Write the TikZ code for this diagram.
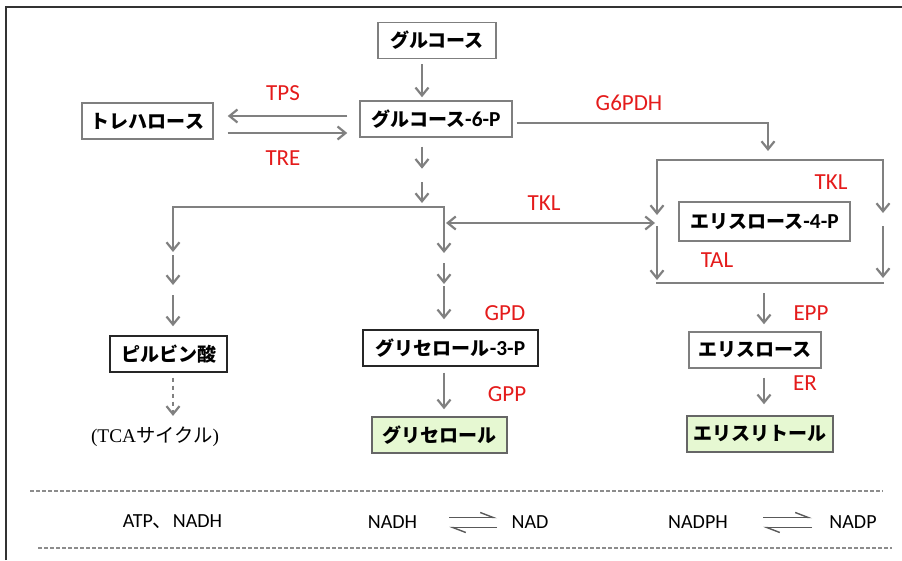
\documentclass[tikz,border=0pt]{standalone}
\usepackage{fontspec}
\usetikzlibrary{arrows.meta,calc}
\newfontfamily\jpfont{Noto Sans CJK JP}
\newfontfamily\latfont{Carlito}
\newfontfamily\romfont{Liberation Serif}
% one pixel of the 902 x 560 layout grid
\def\pxu{*0.75pt}
\newcommand\suffix[1]{{\latfont\bfseries\fontsize{16}{18}\selectfont #1}}

\definecolor{arrowgray}{HTML}{808080}
\definecolor{boxgray}{HTML}{7F7F7F}
\definecolor{enzred}{HTML}{E41B1B}
\definecolor{prodgreen}{HTML}{E6F8D2}
\definecolor{framegray}{HTML}{333333}
\definecolor{sepgray}{HTML}{8C8C8C}
\definecolor{harpgray}{HTML}{595959}

\tikzset{
  pbox/.style={draw=boxgray, line width=1.1pt, fill=white, inner sep=0pt,
    minimum height=36\pxu, font=\jpfont\bfseries\fontsize{14.25}{17}\selectfont},
  darkbox/.style={pbox, draw=black!85},
  prod/.style={pbox, draw=black!60, fill=prodgreen},
  enz/.style={text=enzred, inner sep=0pt, font=\latfont\fontsize{17.25}{20}\selectfont},
  cof/.style={inner sep=0pt, font=\latfont\fontsize{15}{18}\selectfont},
  arr/.style={draw=arrowgray, line width=1.65pt, -{Straight Barb[length=6pt, width=9.75pt]}},
  dblarr/.style={draw=arrowgray, line width=1.65pt,
    {Straight Barb[length=6pt, width=9.75pt]}-{Straight Barb[length=6pt, width=9.75pt]}},
  plain/.style={draw=arrowgray, line width=1.65pt, line cap=rect},
  harp/.style={draw=harpgray, line width=1.05pt, -{Straight Barb[left, length=9.75pt, width=7.5pt]}},
  sep/.style={draw=sepgray, line width=1.05pt, dash pattern=on 3pt off 1.5pt},
}

\begin{document}
\begin{tikzpicture}[x=0.75pt, y=-0.75pt]
\useasboundingbox (0,0) rectangle (902,560);

% outer frame (top and left edges)
\draw[framegray, line width=1.2pt] (6,560) -- (6,7.3) -- (902,7.3);

% metabolites
\node[pbox, minimum width=118\pxu] (glc) at (437,40.5) {グルコース};
\node[pbox, minimum width=152\pxu] (g6p) at (436,119) {グルコース\suffix{-6-P}};
\node[pbox, minimum width=131\pxu] (tre) at (147.5,121) {トレハロース};
\node[darkbox, minimum width=117\pxu] (pyr) at (168.5,354) {ピルビン酸};
\node[darkbox, minimum width=175\pxu] (g3p) at (450.5,348) {グリセロール\suffix{-3-P}};
\node[prod, minimum width=135\pxu] (gly) at (439.5,435) {グリセロール};
\node[pbox, minimum width=171\pxu, minimum height=39\pxu] (e4p) at (764.5,221.5) {エリスロース\suffix{-4-P}};
\node[pbox, minimum width=132\pxu] (ery) at (755,350) {エリスロース};
\node[prod, minimum width=146\pxu] (eryol) at (760,434) {エリスリトール};
\node[inner sep=0pt, font=\fontsize{14.5}{17}\selectfont] (tca) at (155,437)
  {{\romfont (TCA}{\jpfont サイクル}{\romfont )}};

% junctions and columns
\coordinate (colA) at (422,0);
\coordinate (colE) at (764,0);
\coordinate (rTPS) at (0,116);
\coordinate (rTRE) at (0,133);
\coordinate (splitL) at (173,207);
\coordinate (splitR) at (444,207);
\coordinate (tklL) at (444,223);
\coordinate (tklR) at (657,223);
\coordinate (gdrop) at (768,123);
\coordinate (bTL) at (657,160);
\coordinate (bTR) at (883,160);
\coordinate (bBL) at (657,283);
\coordinate (bBR) at (883,283);

% glucose -> glucose-6-P
\draw[arr, shorten <=3.75pt, shorten >=2.25pt] (glc.south -| colA) -- (g6p.north -| colA);

% trehalose synthesis / hydrolysis
\draw[arr, shorten <=9pt, shorten >=10.5pt] (g6p.west |- rTPS) -- (tre.east |- rTPS);
\draw[arr, shorten <=10.5pt, shorten >=9pt] (tre.east |- rTRE) -- (g6p.west |- rTRE);

% glycolysis steps down to the branch point
\draw[arr] ($(g6p.south -| colA)+(0,9)$) -- ++(0,22);
\draw[arr] ($(splitR -| colA)+(0,-25)$) -- ++(0,21);
\draw[plain] (splitL) -- (splitR);

% branch towards pyruvate
\draw[arr] (splitL) -- ++(0,45);
\draw[arr] ($(splitL)+(0,48)$) -- ++(0,30);
\draw[arr] ($(pyr.north -| splitL)+(0,-40)$) -- ++(0,31);
\draw[arr, dashed] ($(pyr.south -| splitL)+(0,5)$) -- ($(tca.north -| splitL)+(0,-11)$);

% branch towards glycerol
\draw[arr] (splitR) -- ++(0,46);
\draw[arr] ($(splitR)+(0,56)$) -- ++(0,21);
\draw[arr] ($(g3p.north -| splitR)+(0,-43)$) -- ++(0,33);
\draw[arr, shorten <=4.5pt, shorten >=5.25pt] (g3p.south -| splitR) -- (gly.north -| splitR);

% transketolase exchange
\draw[dblarr, shorten <=1.5pt, shorten >=1.5pt] (tklL) -- (tklR);

% pentose phosphate pathway
\draw[arr, shorten <=3pt] (g6p.east |- gdrop) -- (gdrop) -- ++(0,28);
\draw[plain] (bTL) -- (bTR);
\draw[arr] (bTL) -- ++(0,55);
\draw[arr, shorten >=2.25pt] ($(bTL)+(0,66)$) -- (bBL);
\draw[arr] (bTR) -- ++(0,53);
\draw[arr, shorten >=3.75pt] ($(bTR)+(0,66)$) -- (bBR);
\draw[plain] (bBL) -- (bBR);

% erythritol formation
\draw[arr, shorten >=5.25pt] ($(bBL -| colE)+(0,10)$) -- (ery.north -| colE);
\draw[arr, shorten <=6.75pt, shorten >=8.25pt] (ery.south -| colE) -- (eryol.north -| colE);

% enzymes
\node[enz] (tps) at (283,93) {TPS};
\node[enz] (tre-enz) at (283,158) {TRE};
\node[enz] (g6pdh) at (629,103) {G6PDH};
\node[enz] (tkl1) at (544,203) {TKL};
\node[enz] (tkl2) at (831,182) {TKL};
\node[enz] (tal) at (717,260) {TAL};
\node[enz] (gpd) at (505,313) {GPD};
\node[enz] (gpp) at (507,394) {GPP};
\node[enz] (epp) at (811,313) {EPP};
\node[enz] (er) at (805,383) {ER};

% cofactor row
\draw[sep] (30,491) -- (883,491);
\draw[sep] (38,548) -- (892,548);
\node[cof] (atp) at (172.5,522) {ATP{\jpfont 、}NADH};
\node[cof] (nadh) at (392.5,522) {NADH};
\node[cof] (nad) at (530,522) {NAD};
\node[cof] (nadph) at (698,522) {NADPH};
\node[cof] (nadp) at (853,522) {NADP};
\coordinate (h1l) at (449,0);
\coordinate (h1r) at (497,0);
\coordinate (h2l) at (763,0);
\coordinate (h2r) at (812,0);
\coordinate (hup) at (0,517.5);
\coordinate (hdn) at (0,527.5);
\draw[harp] (h1l |- hup) -- (h1r |- hup);
\draw[harp] (h1r |- hdn) -- (h1l |- hdn);
\draw[harp] (h2l |- hup) -- (h2r |- hup);
\draw[harp] (h2r |- hdn) -- (h2l |- hdn);
\end{tikzpicture}
\end{document}
